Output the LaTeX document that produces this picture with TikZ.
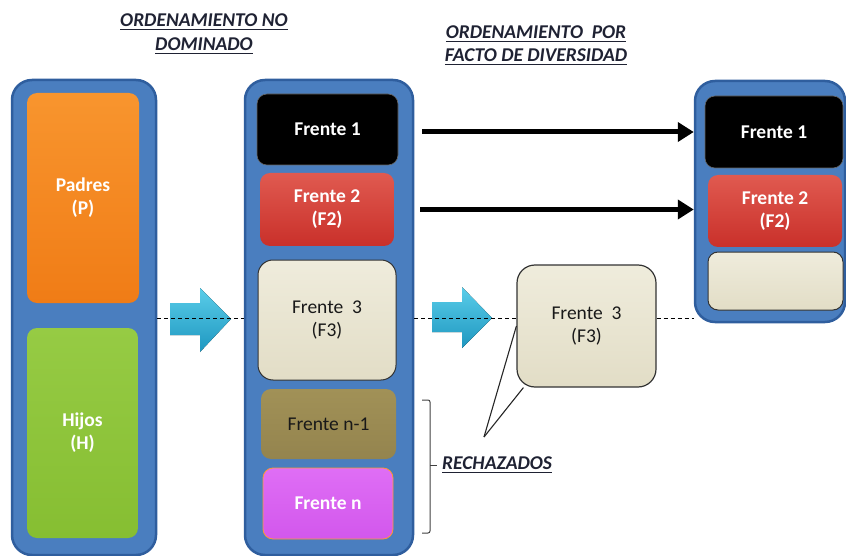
\documentclass[tikz,border=0pt]{standalone}
\usepackage{fontspec}
\setmainfont{Carlito}
\usetikzlibrary{arrows.meta}

% underlined text with a heavier rule
\newcommand{\ulbox}[1]{\sbox0{#1}\rlap{\rule[-3.5pt]{\wd0}{1.3pt}}\usebox0}

\definecolor{panelBlue}{HTML}{4A7EBF}
\definecolor{panelEdge}{HTML}{2F5E9E}
\definecolor{orangeTop}{HTML}{F8952E}
\definecolor{orangeBot}{HTML}{F07C16}
\definecolor{greenTop}{HTML}{96CB44}
\definecolor{greenBot}{HTML}{86BE32}
\definecolor{redTop}{HTML}{E05A50}
\definecolor{redBot}{HTML}{C9302A}
\definecolor{beigeTop}{HTML}{EFECDC}
\definecolor{beigeBot}{HTML}{E2DDC6}
\definecolor{oliveTop}{HTML}{A19157}
\definecolor{oliveBot}{HTML}{94844E}
\definecolor{violetTop}{HTML}{DF6EF5}
\definecolor{violetBot}{HTML}{D257EC}
\definecolor{cyanTop}{HTML}{5ACDE9}
\definecolor{cyanBot}{HTML}{1E97C0}
\definecolor{titleInk}{HTML}{1F2233}

\tikzset{
  panel/.style={draw=panelEdge, line width=2.5pt, fill=panelBlue,
    rounded corners=20pt, inner sep=0pt},
  box/.style={rounded corners=10pt, inner sep=0pt, align=center,
    font=\fontsize{19.5}{23}\selectfont\bfseries, text=white},
  darktext/.style={font=\fontsize{19.5}{23}\selectfont, text=black!90},
  title/.style={inner sep=0pt, anchor=base,
    font=\fontsize{19.5}{23}\selectfont\bfseries\itshape, text=titleInk},
  blockarrow/.style={top color=cyanTop, bottom color=cyanBot},
  bigarrow/.style={line width=5pt, -{Triangle[length=16pt,width=19pt]}},
  guide/.style={line width=1pt, dash pattern=on 4pt off 3pt},
  callout/.style={line width=1.1pt, black!85},
  bracket/.style={line width=1pt, black!75, rounded corners=2pt}
}

\begin{document}
\begin{tikzpicture}[x=1pt,y=-1pt]
\useasboundingbox (0,0) rectangle (846,556);

% section titles
\node[title] (t1a) at (204,27) {\ulbox{ORDENAMIENTO NO}};
\node[title] (t1b) at (204,51) {\ulbox{DOMINADO}};
\node[title] (t2a) at (536,39) {\ulbox{ORDENAMIENTO~ POR}};
\node[title] (t2b) at (536,62) {\ulbox{FACTO DE DIVERSIDAD}};

% population panels
\node[panel, minimum width=144pt, minimum height=475pt] (L) at (84,317.5) {};
\node[panel, minimum width=168pt, minimum height=475pt] (M) at (329,317.5) {};
\node[panel, minimum width=150pt, minimum height=241pt] (R) at (770,201.5) {};

% parents and offspring
\node[box, top color=orangeTop, bottom color=orangeBot,
  minimum width=112pt, minimum height=210pt] (P) at (83,198) {Padres\\(P)};
\node[box, top color=greenTop, bottom color=greenBot,
  minimum width=111pt, minimum height=210pt] (H) at (82.5,433) {Hijos\\(H)};

% non-dominated fronts
\node[box, fill=black, draw=black!60, line width=0.6pt,
  minimum width=141pt, minimum height=71pt] (MF1) at (327.5,129.5) {Frente 1};
\node[box, top color=redTop, bottom color=redBot,
  minimum width=134pt, minimum height=73pt] (MF2) at (327,209.5) {Frente 2\\(F2)};
\node[box, darktext, rounded corners=15pt, top color=beigeTop, bottom color=beigeBot,
  draw=black!80, line width=1pt,
  minimum width=138pt, minimum height=120pt] (MF3) at (327,320) {Frente~ 3\\(F3)};
\node[box, darktext, top color=oliveTop, bottom color=oliveBot,
  minimum width=135pt, minimum height=70pt] (MFn1) at (328.5,424) {Frente n-1};
\node[box, top color=violetTop, bottom color=violetBot, draw=orange!80, line width=0.8pt,
  minimum width=130pt, minimum height=71pt] (MFn) at (328,503.5) {Frente n};

% new population
\node[box, fill=black, draw=black!60, line width=0.6pt,
  minimum width=138pt, minimum height=72pt] (RF1) at (774,132) {Frente 1};
\node[box, top color=redTop, bottom color=redBot,
  minimum width=134pt, minimum height=72pt] (RF2) at (775,211) {Frente 2\\(F2)};
\node[box, top color=beigeTop, bottom color=beigeBot, draw=black!80, line width=1pt,
  minimum width=135pt, minimum height=58pt] (RF3) at (775.5,281) {};

% front 3 sorted by crowding
\node[box, darktext, rounded corners=18pt, top color=beigeTop, bottom color=beigeBot,
  draw=black!80, line width=1.2pt,
  minimum width=139pt, minimum height=122pt] (F3b) at (586.5,326) {Frente~ 3\\(F3)};

% block arrows
\fill[blockarrow] (170,303) -- (200,303) -- (200,288) -- (231,319)
  -- (200,352) -- (200,335) -- (170,335) -- cycle;
\fill[blockarrow] (432,302) -- (462,302) -- (462,287) -- (492,318)
  -- (462,348) -- (462,332) -- (432,332) -- cycle;

% cut line
\coordinate (dl) at (0,318);
\draw[guide] (L.east |- dl) -- (M.west |- dl);
\draw[guide] (M.east |- dl) -- (F3b.west |- dl);
\draw[guide] (F3b.east |- dl) -- (R.west |- dl);

% fronts copied directly
\draw[bigarrow] ([xshift=8pt]M.east |- RF1.center) -- (R.west |- RF1.center);
\draw[bigarrow] ([xshift=6pt]M.east |- MF2.center) -- (R.west |- MF2.center);

% rejected individuals
\coordinate (apex) at (484,437);
\draw[callout] (apex) -- (F3b.west);
\draw[callout] (apex) -- ([xshift=7pt]F3b.south west);

\node[title, anchor=west] (rech) at (442,465) {\ulbox{RECHAZADOS}};
\draw[bracket] (422,400) -- (430,400) -- (430,533) -- (422,533);
\draw[bracket] (430,465) -- ([xshift=-5pt]rech.west);
\end{tikzpicture}
\end{document}
